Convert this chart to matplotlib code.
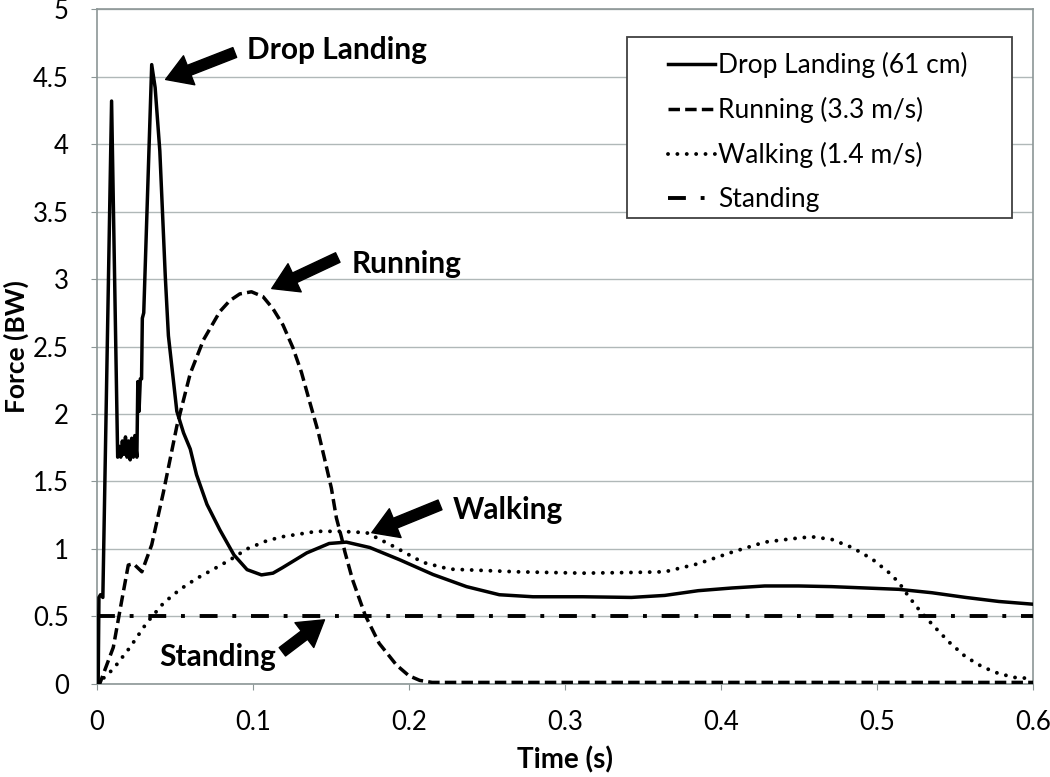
import matplotlib
matplotlib.use("Agg")
import matplotlib.pyplot as plt
from matplotlib.patches import Rectangle

plt.rcParams['font.family'] = ['Lato', 'DejaVu Sans']

# Data (time in s, force in BW)
drop_t = [0.000, 0.001, 0.0015, 0.0025, 0.004, 0.0096, 0.0135, 0.0145, 0.0155,
          0.0165, 0.0175, 0.0185, 0.0195, 0.0205, 0.0215, 0.0225, 0.0235, 0.0245,
          0.0258, 0.0264, 0.0272, 0.0280, 0.0288, 0.0293, 0.0302, 0.0353, 0.0375,
          0.0405, 0.044, 0.046, 0.0514, 0.0557, 0.060, 0.064, 0.0707, 0.079,
          0.088, 0.0964, 0.1056, 0.113, 0.119, 0.1346, 0.149, 0.160, 0.175,
          0.194, 0.2155, 0.237, 0.258, 0.2795, 0.3115, 0.3426, 0.364, 0.3854,
          0.407, 0.428, 0.4497, 0.471, 0.4925, 0.514, 0.535, 0.5567, 0.578, 0.5996]
drop_f = [0.0, 0.0, 0.64, 0.66, 0.64, 4.32, 1.68, 1.76, 1.68,
          1.80, 1.70, 1.83, 1.68, 1.80, 1.66, 1.82, 1.68, 1.84,
          1.68, 2.24, 2.02, 2.26, 2.26, 2.71, 2.75, 4.59, 4.42,
          3.95, 3.02, 2.58, 2.02, 1.86, 1.74, 1.55, 1.33, 1.14,
          0.955, 0.846, 0.807, 0.82, 0.86, 0.97, 1.04, 1.05, 1.01,
          0.92, 0.81, 0.72, 0.66, 0.645, 0.645, 0.64, 0.655, 0.69,
          0.71, 0.725, 0.725, 0.72, 0.71, 0.70, 0.675, 0.64, 0.61, 0.59]

run_t = [0.0, 0.002, 0.0107, 0.016, 0.0203, 0.0236, 0.029, 0.0353, 0.0428,
         0.0514, 0.060, 0.0685, 0.079, 0.0853, 0.0917, 0.0992, 0.1066, 0.113,
         0.1194, 0.1258, 0.1312, 0.1365, 0.1419, 0.146, 0.1504, 0.1536, 0.157,
         0.159, 0.164, 0.172, 0.181, 0.192, 0.200, 0.207, 0.215, 0.30, 0.40,
         0.50, 0.60]
run_f = [0.0, 0.0, 0.27, 0.61, 0.88, 0.89, 0.83, 1.03, 1.42,
         1.91, 2.30, 2.55, 2.76, 2.84, 2.89, 2.906, 2.87, 2.78,
         2.66, 2.49, 2.31, 2.09, 1.87, 1.67, 1.45, 1.23, 1.08,
         0.98, 0.77, 0.51, 0.30, 0.14, 0.06, 0.025, 0.01, 0.01, 0.01,
         0.01, 0.01]

walk_t = [0.0, 0.002, 0.0107, 0.0214, 0.032, 0.043, 0.0535, 0.064, 0.075,
          0.0857, 0.0964, 0.109, 0.119, 0.141, 0.156, 0.173, 0.190, 0.209,
          0.226, 0.269, 0.3115, 0.3426, 0.364, 0.3854, 0.4069, 0.428, 0.4454,
          0.458, 0.471, 0.484, 0.4968, 0.5075, 0.514, 0.520, 0.5268, 0.5353,
          0.546, 0.5567, 0.5675, 0.578, 0.589, 0.5985]
walk_f = [0.0, 0.015, 0.11, 0.27, 0.45, 0.60, 0.70, 0.78, 0.85,
          0.92, 1.00, 1.06, 1.09, 1.13, 1.13, 1.12, 1.02, 0.90,
          0.85, 0.83, 0.82, 0.825, 0.83, 0.89, 0.975, 1.05, 1.075,
          1.09, 1.07, 1.01, 0.925, 0.825, 0.75, 0.65, 0.55, 0.44,
          0.31, 0.20, 0.125, 0.075, 0.045, 0.04]

stand_t = [0.0, 0.6]
stand_f = [0.5, 0.5]

x_ticks = [0, 0.1, 0.2, 0.3, 0.4, 0.5, 0.6]
x_labels = ['0', '0.1', '0.2', '0.3', '0.4', '0.5', '0.6']
y_ticks = [0, 0.5, 1, 1.5, 2, 2.5, 3, 3.5, 4, 4.5, 5]
y_labels = ['0', '0.5', '1', '1.5', '2', '2.5', '3', '3.5', '4', '4.5', '5']

fig = plt.figure(figsize=(10.5, 7.77), dpi=100)
ax = fig.add_axes([0.092, 0.120, 0.892, 0.868])

ax.plot(drop_t, drop_f, color='black', lw=2.5, label='Drop Landing (61 cm)', zorder=5)
ax.plot(run_t, run_f, color='black', lw=2.5, linestyle=(0, (3.3, 1.5)),
        label='Running (3.3 m/s)', zorder=4)
ax.plot(walk_t, walk_f, color='black', lw=2.8, linestyle=(0, (0.01, 2.4)),
        dash_capstyle='round', label='Walking (1.4 m/s)', zorder=4)
ax.plot(stand_t, stand_f, color='black', lw=2.8, linestyle=(0, (4.6, 3.8, 1.0, 3.8)),
        label='Standing', zorder=3)

ax.set_xlim(0, 0.6)
ax.set_ylim(0, 5)
ax.set_xticks(x_ticks)
ax.set_xticklabels(x_labels)
ax.set_yticks(y_ticks)
ax.set_yticklabels(y_labels)
ax.tick_params(axis='both', labelsize=18.5, colors='#8c9696', labelcolor='black', length=4)
ax.tick_params(axis='x', pad=15)
ax.tick_params(axis='y', pad=16)
ax.grid(axis='y', color='#b0b8b8', lw=1)
ax.set_axisbelow(True)
for s in ax.spines.values():
    s.set_color('#8c9696')
    s.set_linewidth(1.2)

ax.set_xlabel('Time (s)', fontsize=20, fontweight='bold', labelpad=8)
ax.set_ylabel('Force (BW)', fontsize=19, fontweight='bold', va='center')
ax.yaxis.set_label_coords(-0.0855, 0.5)

# legend box drawn by hand so the padding matches
ax.add_patch(Rectangle((0.566, 0.690), 0.4116, 0.2685, transform=ax.transAxes,
                       facecolor='white', edgecolor='#404040', lw=1.3, zorder=8))
leg = ax.legend(loc='upper left', bbox_to_anchor=(0.610, 0.937), frameon=False,
                fontsize=19, handlelength=1.8, handletextpad=0.1, labelspacing=0.72,
                borderpad=0, borderaxespad=0)
leg.set_zorder(9)

# annotations with block arrows
arrow = dict(arrowstyle='simple,head_length=0.65,head_width=0.8,tail_width=0.27',
             fc='black', ec='black', shrinkA=0, shrinkB=0, mutation_scale=28)
notes = [('Drop Landing', (0.0962, 4.70), (0.0885, 4.68), (0.0442, 4.48)),
         ('Running', (0.1635, 3.11), (0.1545, 3.16), (0.1122, 2.93)),
         ('Walking', (0.228, 1.29), (0.220, 1.326), (0.1763, 1.12))]
for txt, pos, tail, head in notes:
    ax.text(pos[0], pos[1], txt, fontsize=21.5, fontweight='bold', ha='left', va='center', zorder=7)
    ax.annotate('', xy=head, xytext=tail, arrowprops=arrow, zorder=7)

ax.text(0.0404, 0.20, 'Standing', fontsize=21.5, fontweight='bold', ha='left', va='center', zorder=7)
ax.annotate('', xy=(0.146, 0.474), xytext=(0.119, 0.237), arrowprops=arrow, zorder=7)

fig.savefig('out.png', dpi=100)
